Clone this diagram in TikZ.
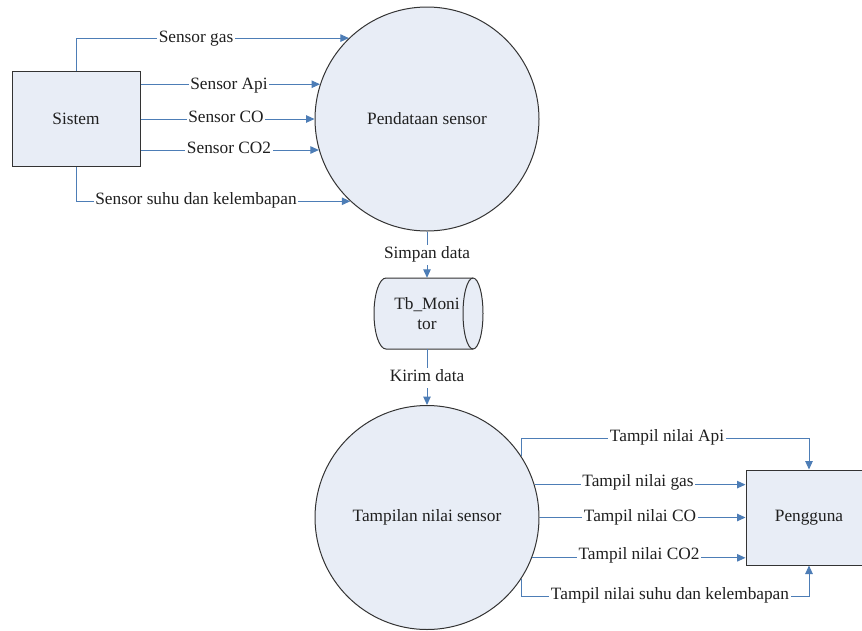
\documentclass[tikz,border=0pt]{standalone}
\usepackage{fontspec}
\setmainfont{Liberation Serif}
\usetikzlibrary{arrows.meta,calc}
\definecolor{linec}{HTML}{4D7DB6}
\definecolor{nodefill}{HTML}{E8EDF6}
\definecolor{edgec}{HTML}{333333}
\begin{document}
\begin{tikzpicture}[x=1pt,y=-1pt,
  every node/.style={font=\fontsize{17.3}{20}\selectfont, text=black!88},
  proc/.style={circle, draw=edgec, fill=nodefill, line width=1pt, minimum size=224pt, inner sep=0pt},
  ent/.style={rectangle, draw=edgec, fill=nodefill, line width=1pt, minimum width=128pt, minimum height=95pt},
  flow/.style={draw=linec, line width=1pt, -{Triangle[length=8.5pt,width=7.5pt]}},
  lbl/.style={fill=white, inner sep=1.5pt, text height=12pt, text depth=4.2pt}]
\useasboundingbox (0,0) rectangle (862,630);
\fill[white] (0,0) rectangle (862,630);

\node[ent] (sis) at (76,119) {Sistem};
\node[proc] (pend) at (427,119) {Pendataan sensor};
\node[proc] (tamp) at (427,517.5) {Tampilan nilai sensor};

\coordinate (tbc) at (428,313.5);
\path[fill=nodefill, draw=edgec, line width=1pt]
  ($(tbc)+(-42,-35.5)$) -- ($(tbc)+(45,-35.5)$)
  arc[start angle=90, end angle=-90, x radius=10pt, y radius=35.5pt]
  -- ($(tbc)+(-42,35.5)$)
  arc[start angle=270, end angle=90, x radius=12pt, y radius=35.5pt] -- cycle;
\draw[edgec, line width=1pt] ($(tbc)+(45,-35.5)$)
  arc[start angle=90, end angle=270, x radius=10pt, y radius=35.5pt];
\node[minimum width=108pt, minimum height=71pt, inner sep=0pt, align=center] (tb) at (427,313.5) {Tb\_Moni\\tor};

\begin{scope}
\clip (0,0) rectangle (862,630);
\node[ent, minimum width=126pt] (peng) at (809,517.5) {Pengguna};
\end{scope}

\coordinate (apiy) at (0,438);
\coordinate (suhuy) at (0,596);

\draw[flow] (sis.north) |- (pend.134.4);
\draw[flow] (sis.east |- pend.162.9) -- (pend.162.9);
\draw[flow] (sis.east) -- (pend.west);
\draw[flow] (sis.east |- pend.196.1) -- (pend.196.1);
\draw[flow] (sis.south) |- (pend.227.1);
\draw[flow] (pend.south) -- (tb.north);
\draw[flow] (tb.south) -- (tamp.north);
\draw[flow] (tamp.33) |- (apiy -| peng.north) -- (peng.north);
\draw[flow] (tamp.17.9) -- (tamp.17.9 -| peng.west);
\draw[flow] (tamp.east) -- (peng.west);
\draw[flow] (tamp.339.9) -- (tamp.339.9 -| peng.west);
\draw[flow] (tamp.327) |- (suhuy -| peng.south) -- (peng.south);

\node[lbl] (l1) at (196,39) {Sensor gas};
\node[lbl] (l2) at (229,86) {Sensor Api};
\node[lbl] (l3) at (226,119) {Sensor CO};
\node[lbl] (l4) at (229,150) {Sensor CO2};
\node[lbl] (l5) at (196,201) {Sensor suhu dan kelembapan};
\node[lbl] (l6) at (427,255) {Simpan data};
\node[lbl] (l7) at (427,378) {Kirim data};
\node[lbl] (l8) at (667,438) {Tampil nilai Api};
\node[lbl] (l9) at (638,483) {Tampil nilai gas};
\node[lbl] (l10) at (640,517.5) {Tampil nilai CO};
\node[lbl] (l11) at (639,556) {Tampil nilai CO2};
\node[lbl] (l12) at (670,596) {Tampil nilai suhu dan kelembapan};
\end{tikzpicture}
\end{document}
